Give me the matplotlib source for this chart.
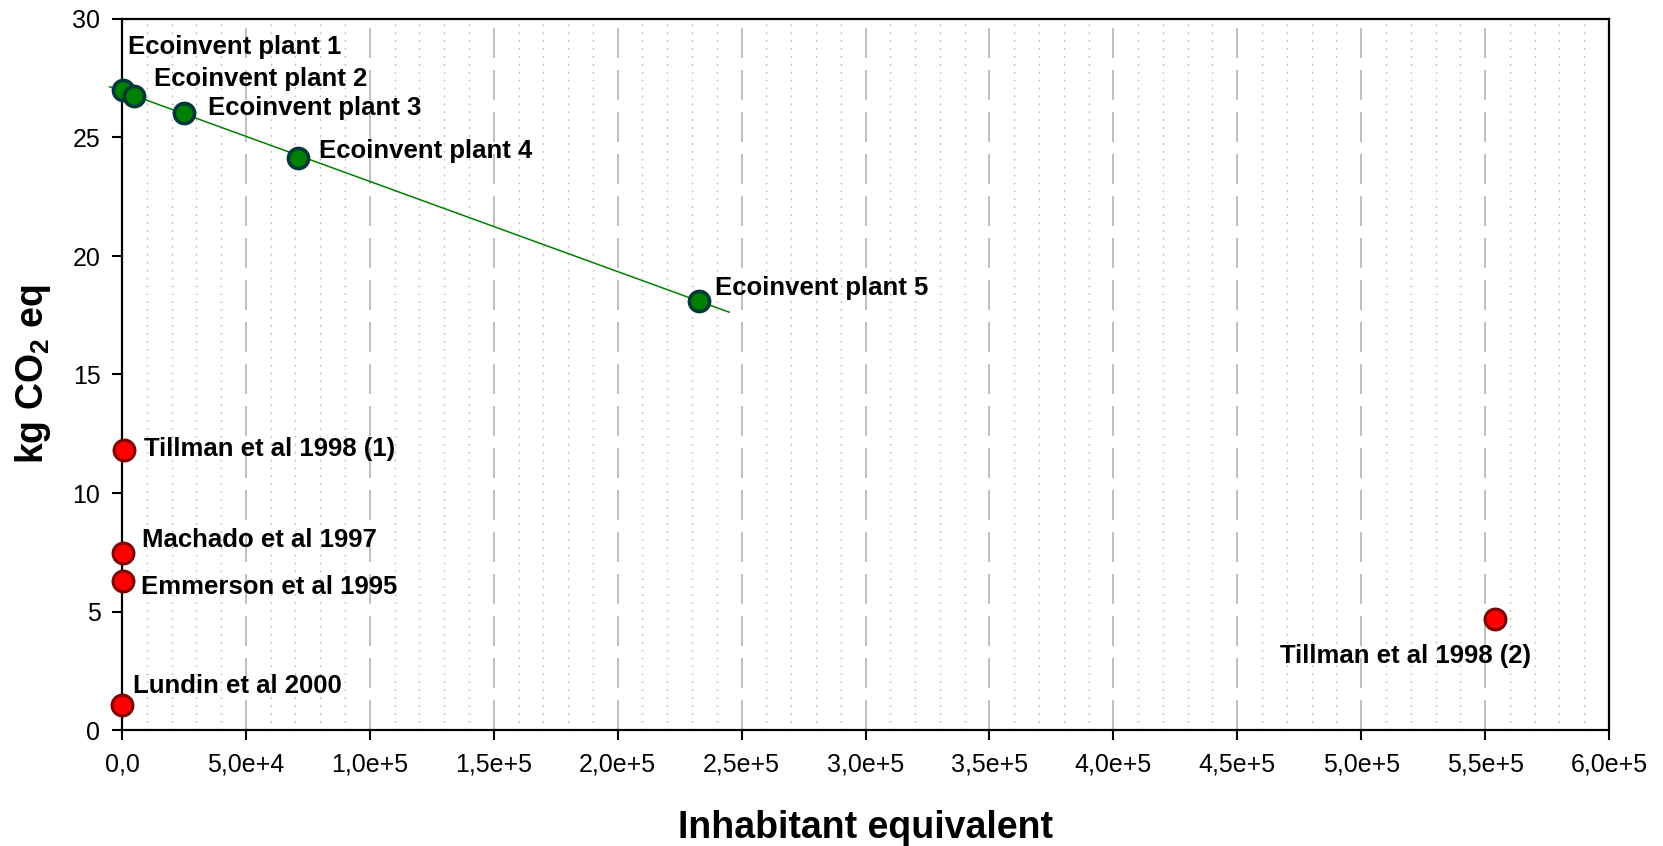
import numpy as np
import matplotlib
matplotlib.use("Agg")
import matplotlib.pyplot as plt
from matplotlib.ticker import MultipleLocator, FixedLocator, FixedFormatter

plt.rcParams['font.family'] = ['Liberation Sans', 'DejaVu Sans']
plt.rcParams['mathtext.fontset'] = 'custom'
plt.rcParams['mathtext.rm'] = 'Liberation Sans'
plt.rcParams['mathtext.bf'] = 'Liberation Sans:bold'

# ---- data ----
eco_names = ["Ecoinvent plant 1", "Ecoinvent plant 2", "Ecoinvent plant 3",
             "Ecoinvent plant 4", "Ecoinvent plant 5"]
eco_x = [500, 5000, 25000, 71000, 233000]
eco_y = [27.0, 26.75, 26.03, 24.13, 18.12]

lit_names = ["Tillman et al 1998 (1)", "Machado et al 1997", "Emmerson et al 1995",
             "Lundin et al 2000", "Tillman et al 1998 (2)"]
lit_x = [800, 400, 400, 100, 554000]
lit_y = [11.81, 7.47, 6.29, 1.05, 4.68]

x_ticks = [0, 5e4, 1e5, 1.5e5, 2e5, 2.5e5, 3e5, 3.5e5, 4e5, 4.5e5, 5e5, 5.5e5, 6e5]
x_tick_labels = ["0,0", "5,0e+4", "1,0e+5", "1,5e+5", "2,0e+5", "2,5e+5", "3,0e+5",
                 "3,5e+5", "4,0e+5", "4,5e+5", "5,0e+5", "5,5e+5", "6,0e+5"]
y_ticks = [0, 5, 10, 15, 20, 25, 30]

# fit line extent
fit_x_start, fit_x_end = -5000, 245000

# label offsets (pixels) for layout
eco_offsets = [(5, 36), (20, 10), (24, -2), (21, 0), (16, 6)]
lit_offsets = [(20, -6), (19, 6), (18, -13), (11, 12), (-89, -44)]
lit_ha = ['left', 'left', 'left', 'left', 'center']

# ---- figure ----
fig = plt.figure(figsize=(16.63, 8.46), dpi=100)
ax = fig.add_axes([122 / 1663, 1 - 730 / 846, (1609 - 122) / 1663, (730 - 19) / 846])

ax.set_xlim(0, 6e5)
ax.set_ylim(0, 30)

# grid
ax.xaxis.set_major_locator(FixedLocator(x_ticks))
ax.xaxis.set_major_formatter(FixedFormatter(x_tick_labels))
ax.xaxis.set_minor_locator(MultipleLocator(1e4))
ax.set_yticks(y_ticks)
ax.grid(True, which='major', axis='x', color='#c0c0c0', lw=1.44,
        linestyle=(0, (15, 6)), zorder=0)
ax.grid(True, which='minor', axis='x', color='#b4b4b4', lw=1.0,
        linestyle=(0, (1.1, 4.6)), zorder=0)
ax.set_axisbelow(True)

# fit line
coef = np.polyfit(eco_x, eco_y, 1)
fx = np.array([fit_x_start, fit_x_end])
ax.plot(fx, np.polyval(coef, fx), color='#008000', lw=1.1, zorder=2, clip_on=False)

ax.plot(eco_x, eco_y, 'o', ms=14.5, mfc='#008000', mec='#003838', mew=2.6,
        zorder=4, clip_on=False, linestyle='none')
ax.plot(lit_x, lit_y, 'o', ms=15, mfc='#ff0000', mec='#800000', mew=2.2,
        zorder=4, clip_on=False, linestyle='none')

for name, x, y, off in zip(eco_names, eco_x, eco_y, eco_offsets):
    ax.annotate(name, (x, y), xytext=off, textcoords='offset pixels',
                ha='left', va='baseline', fontsize=18.5, fontweight='bold', zorder=5)
for name, x, y, off, ha in zip(lit_names, lit_x, lit_y, lit_offsets, lit_ha):
    ax.annotate(name, (x, y), xytext=off, textcoords='offset pixels',
                ha=ha, va='baseline', fontsize=18.5, fontweight='bold', zorder=5)

# axes styling
for s in ax.spines.values():
    s.set_linewidth(1.6)
    s.set_color('black')
ax.tick_params(axis='both', which='major', direction='out', length=7.5, width=1.5,
               labelsize=18, colors='black')
ax.tick_params(axis='x', which='major', pad=9)
ax.tick_params(axis='y', which='major', pad=8)
ax.tick_params(axis='x', which='minor', length=0)

ax.set_xlabel("Inhabitant equivalent", fontsize=27, fontweight='bold', labelpad=24)
ax.set_ylabel(r"kg CO$_\mathbf{2}$ eq", fontsize=27, fontweight='bold', labelpad=14)

fig.savefig("out.png", dpi=100)
